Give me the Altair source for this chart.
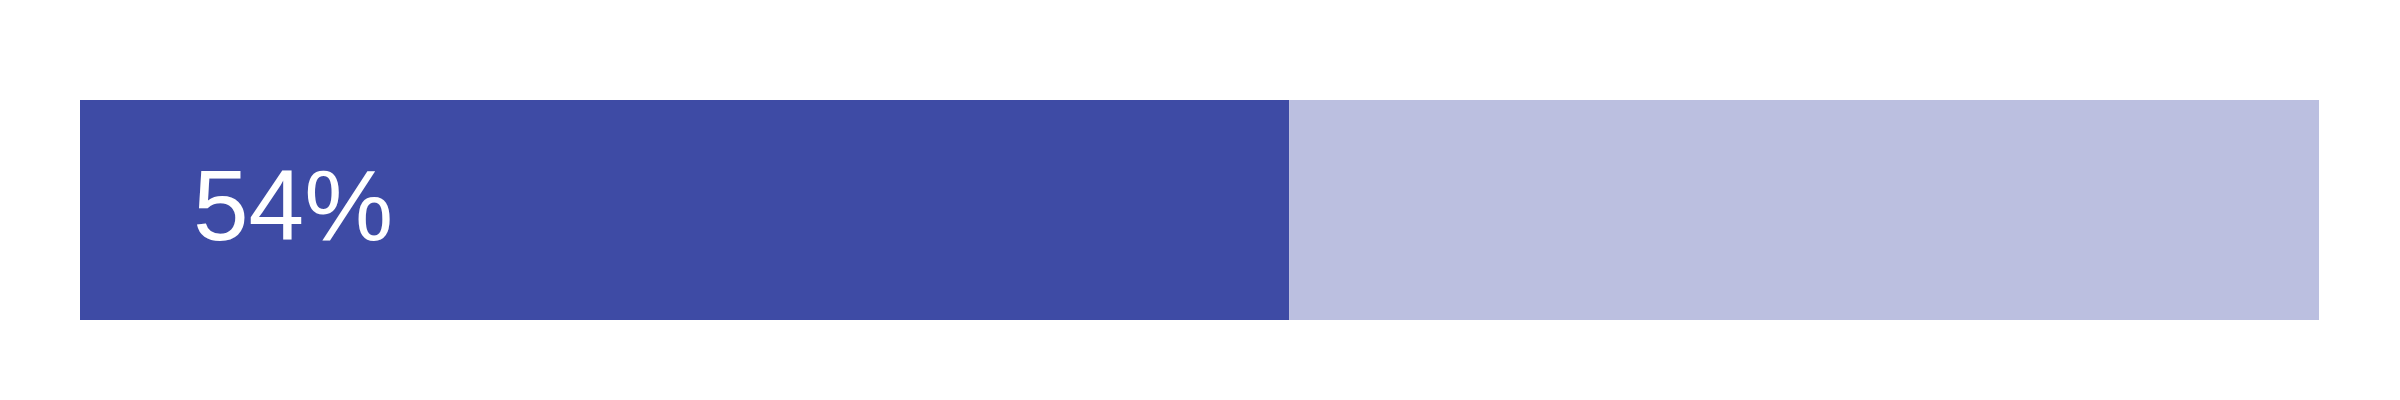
import altair as alt
import pandas as pd

segment_names = ["done", "remaining"]
segment_start = [0, 54]
segment_end = [54, 100]
segment_colors = ["#3E4BA5", "#BBBFE0"]
label_values = [54]
label_texts = ["54%"]

seg_df = pd.DataFrame({"name": segment_names, "start": segment_start, "end": segment_end})
lab_df = pd.DataFrame({"value": label_values, "text": label_texts, "pos": [0]})

xscale = alt.Scale(domain=[0, 100], nice=False, zero=False)

bars = alt.Chart(seg_df).mark_rect().encode(
    x=alt.X("start:Q", scale=xscale, axis=None),
    x2="end:Q",
    color=alt.Color("name:N", scale=alt.Scale(domain=segment_names, range=segment_colors), legend=None),
)

label = alt.Chart(lab_df).mark_text(
    align="left", baseline="middle", fontSize=100, font="Liberation Sans", color="white", dx=113
).encode(
    x=alt.X("pos:Q", scale=xscale, axis=None),
    text="text:N",
)

chart = alt.layer(bars, label).properties(
    width=2239,
    height=220,
    padding={"left": 72, "top": 92, "right": 20, "bottom": 20},
    autosize=alt.AutoSizeParams(type="none"),
    background="white",
).configure_view(stroke=None)

chart.save("out.html", embed_options={"renderer": "svg", "actions": False})
